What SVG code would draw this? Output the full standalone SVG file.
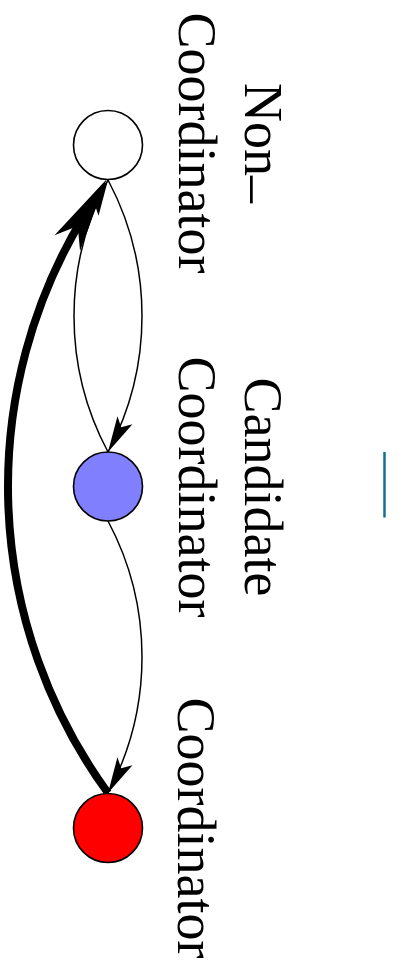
<svg xmlns="http://www.w3.org/2000/svg" width="399" height="968" viewBox="0 0 399 968">
<style>
.node circle{stroke:#000;stroke-width:1.6}
.lbl{font-family:"Liberation Serif","Times New Roman",serif;font-size:54px;fill:#000;text-anchor:middle}
.thin{fill:none;stroke:#000;stroke-width:1.5}
.thick{fill:none;stroke:#000;stroke-width:8}
</style>
<defs>
<marker id="ah" markerUnits="userSpaceOnUse" orient="auto" refX="0" refY="0" markerWidth="80" markerHeight="40" overflow="visible">
<path d="M0,0 L-36,-8.5 L-28,0 L-36,8.5 Z" fill="#000"/>
</marker>
<marker id="ahThick" markerUnits="userSpaceOnUse" orient="auto" refX="-41" refY="0" markerWidth="120" markerHeight="60" overflow="visible">
<path d="M0,0 L-75,-15 L-55,0 L-75,15 Z" fill="#000"/>
</marker>
</defs>
<rect width="399" height="968" fill="#fff"/>
<g id="connectors">
<path class="thin" d="M108,180 A289,289 0 0,1 108,452" marker-end="url(#ah)"/>
<path class="thin" d="M108,452 A289,289 0 0,1 108,180" marker-end="url(#ah)"/>
<path class="thin" d="M108,521 A289,289 0 0,1 108,793" marker-end="url(#ah)"/>
<path class="thick" d="M108,793 A519.7,519.7 0 0,1 85.1,214.1" marker-end="url(#ahThick)"/>
</g>
<g id="node-noncoordinator" class="node">
<circle cx="108" cy="145" r="34.5" fill="#ffffff"/>
<text class="lbl" transform="translate(245,143) rotate(90)">Non<tspan dy="6">–</tspan></text>
<text class="lbl" transform="translate(179,143) rotate(90)">Coordinator</text>
</g>
<g id="node-candidate" class="node">
<circle cx="108" cy="486.5" r="34.5" fill="#8080ff"/>
<text class="lbl" transform="translate(245,487) rotate(90)">Candidate</text>
<text class="lbl" transform="translate(179,487) rotate(90)">Coordinator</text>
</g>
<g id="node-coordinator" class="node">
<circle cx="108" cy="828" r="34.5" fill="#ff0000"/>
<text class="lbl" transform="translate(178,828) rotate(90)">Coordinator</text>
</g>
<g id="mark">
<line x1="384.5" y1="452" x2="384.5" y2="517.5" stroke="#14708f" stroke-width="2.5"/>
</g>
</svg>
